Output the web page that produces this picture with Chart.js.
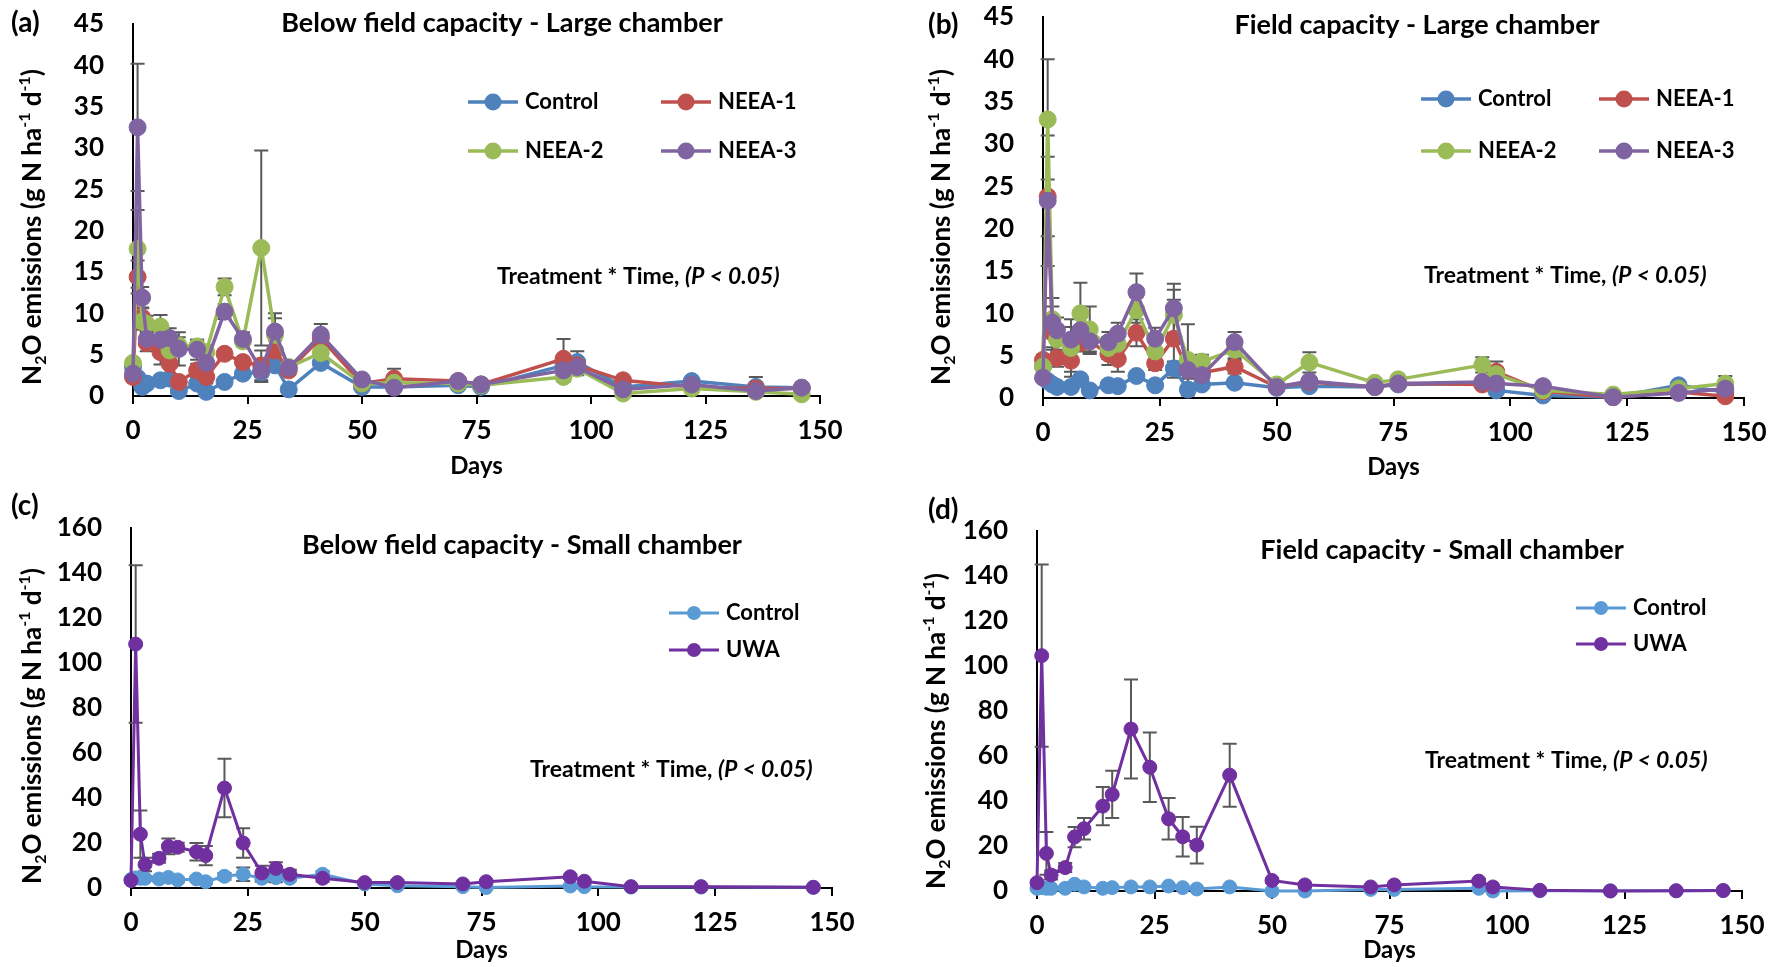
<!DOCTYPE html>
<html>
<head>
<meta charset="utf-8">
<title>N2O emissions</title>
<script src="https://cdn.jsdelivr.net/npm/chart.js@4.4.1/dist/chart.umd.min.js"></script>
<style>
  body { margin: 0; background: #fff; }
  #wrap { position: relative; width: 1778px; height: 967px; overflow: hidden; }
  canvas { position: absolute; }
</style>
</head>
<body>
<div id="wrap">
  <canvas id="chartA" width="889" height="484" style="left:0;top:0"></canvas>
  <canvas id="chartB" width="889" height="484" style="left:889px;top:0"></canvas>
  <canvas id="chartC" width="889" height="484" style="left:0;top:483px"></canvas>
  <canvas id="chartD" width="889" height="484" style="left:889px;top:483px"></canvas>
</div>
<script>
// sampling days (same for every panel)
const days = [0, 1, 2, 3, 6, 8, 10, 14, 16, 20, 24, 28, 31, 34, 41, 50, 57, 71, 76, 94, 97, 107, 122, 136, 146];

// tick labels
const dayTicks = [0, 25, 50, 75, 100, 125, 150];
const largeTicks = [0, 5, 10, 15, 20, 25, 30, 35, 40, 45];
const smallTicks = [0, 20, 40, 60, 80, 100, 120, 140, 160];

const largeSeries = ["Control", "NEEA-1", "NEEA-2", "NEEA-3"];
const smallSeries = ["Control", "UWA"];

// (a) Below field capacity - Large chamber
const ctrlA = [3.5, 2.2, 1.1, 1.5, 1.9, 2.1, 0.6, 1.5, 0.5, 1.7, 2.7, 2.9, 3.7, 0.8, 4.0, 1.1, 1.1, 1.3, 1.1, 3.7, 4.1, 1.1, 1.8, 1.1, 1.0];
const neea1A = [2.3, 14.4, 9.5, 6.4, 5.3, 3.9, 1.7, 3.1, 2.3, 5.1, 4.1, 3.7, 5.5, 3.1, 7.0, 1.5, 2.1, 1.8, 1.4, 4.5, 3.7, 1.9, 1.1, 0.9, 0.9];
const neea2A = [4.0, 17.8, 9.0, 8.7, 8.4, 5.5, 6.1, 6.0, 5.3, 13.2, 6.6, 17.9, 7.4, 3.5, 5.2, 1.5, 1.6, 1.5, 1.3, 2.3, 3.3, 0.3, 0.9, 0.5, 0.2];
const neea3A = [2.7, 32.5, 11.9, 6.9, 6.8, 7.0, 5.7, 5.6, 4.0, 10.2, 6.9, 3.1, 7.8, 3.4, 7.4, 2.0, 1.0, 1.8, 1.4, 3.1, 3.5, 0.8, 1.4, 0.6, 1.0];
const ctrlAErr = [0.5, 0.5, 0.3, 0.3, 0.3, 0.3, 0.3, 0.3, 0.3, 0.4, 0.5, 0.6, 0.6, 0.3, 0.5, 0.3, 0.3, 0.3, 0.3, 0.8, 1.3, 0.3, 0.3, 1.2, 0.3];
const neea1AErr = [0.5, 2.0, 1.2, 1.0, 1.5, 1.2, 0.5, 0.8, 0.8, 0.6, 0.5, 1.8, 1.2, 0.5, 0.8, 0.4, 1.2, 0.3, 0.3, 2.4, 0.8, 0.4, 0.3, 0.3, 0.3];
const neea2AErr = [0.5, 4.7, 1.0, 1.0, 1.4, 1.0, 1.0, 0.8, 0.8, 1.0, 0.6, 11.8, 2.0, 0.5, 0.8, 0.3, 0.5, 0.3, 0.3, 0.6, 0.8, 0.3, 0.3, 0.3, 0.3];
const neea3AErr = [0.5, 7.7, 1.3, 1.0, 1.0, 1.2, 2.0, 1.2, 1.0, 0.9, 0.8, 1.4, 2.2, 0.5, 1.3, 0.4, 0.3, 0.3, 0.3, 0.5, 0.8, 0.3, 0.3, 0.3, 0.3];

// (b) Field capacity - Large chamber
const ctrlB = [3.7, 2.0, 1.6, 1.3, 1.3, 2.2, 0.9, 1.5, 1.4, 2.6, 1.5, 3.5, 1.0, 1.6, 1.8, 1.2, 1.4, 1.3, 1.6, 1.7, 0.9, 0.3, 0.1, 1.5, 0.7];
const neea1B = [4.5, 23.8, 7.7, 4.7, 4.4, 6.5, 6.7, 5.2, 4.6, 7.7, 4.1, 7.0, 3.3, 3.0, 3.7, 1.3, 1.9, 1.3, 1.7, 1.6, 3.1, 0.8, 0.1, 0.7, 0.2];
const neea2B = [3.7, 32.9, 9.3, 6.9, 5.9, 10.0, 8.1, 5.9, 6.4, 10.4, 5.5, 9.8, 4.5, 4.3, 5.7, 1.6, 4.2, 1.8, 2.2, 3.9, 2.8, 0.9, 0.4, 1.1, 1.7];
const neea3B = [2.4, 23.3, 8.9, 8.0, 6.9, 8.0, 6.7, 6.6, 7.6, 12.5, 7.0, 10.6, 3.3, 2.7, 6.6, 1.3, 2.0, 1.3, 1.7, 1.9, 1.7, 1.4, 0.1, 0.6, 1.1];
const ctrlBErr = [0.5, 0.4, 0.3, 0.3, 0.3, 0.4, 0.3, 0.3, 0.3, 0.4, 0.3, 0.8, 0.3, 0.3, 0.3, 0.2, 0.2, 0.2, 0.2, 0.3, 0.3, 0.1, 0.1, 0.4, 0.2];
const neea1BErr = [0.6, 4.7, 2.0, 1.0, 1.3, 1.0, 1.2, 1.3, 1.5, 1.6, 0.8, 4.6, 1.0, 0.6, 0.8, 0.3, 0.4, 0.3, 0.3, 0.4, 1.2, 0.3, 0.1, 0.3, 0.2];
const neea2BErr = [0.5, 7.1, 1.5, 1.5, 3.4, 3.6, 2.7, 1.3, 1.5, 1.5, 1.0, 3.0, 4.2, 0.8, 1.0, 0.3, 1.2, 0.3, 0.3, 0.9, 0.8, 0.3, 0.2, 0.3, 0.9];
const neea3BErr = [0.5, 7.7, 2.9, 1.5, 1.5, 1.5, 1.5, 1.2, 1.3, 2.2, 1.3, 2.9, 1.0, 0.6, 1.2, 0.3, 0.3, 0.3, 0.3, 0.3, 0.3, 0.3, 0.1, 0.3, 0.3];

// (c) Below field capacity - Small chamber (no reading on day 136)
const ctrlC = [3.8, 4.5, 4.3, 4.3, 4.0, 4.7, 3.6, 4.0, 2.8, 5.2, 6.1, 4.3, 4.6, 4.3, 6.1, 1.8, 1.0, 0.6, 0.2, 0.9, 0.6, 0.4, 0.4, null, 0.3];
const uwaC = [3.3, 108.4, 23.9, 10.4, 13.2, 18.5, 18.1, 16.1, 14.4, 44.4, 20.0, 6.7, 8.7, 6.1, 4.3, 2.4, 2.4, 1.8, 2.8, 5.0, 3.0, 0.6, 0.6, null, 0.3];
const ctrlCErr = [1, 1, 1, 1, 1, 1, 1, 1, 1, 1.5, 3.0, 1.5, 2.0, 1.0, 1.5, 0.5, 0.5, 0.3, 0.3, 0.3, 0.3, 0.3, 0.3, 0, 0.3];
const uwaCErr = [1, 35, 10.5, 3, 2, 3.5, 2, 3.9, 4.3, 13, 6.6, 3.2, 2.7, 2, 1.5, 1, 1, 0.5, 0.5, 1, 0.8, 0.3, 0.3, 0, 0.3];

// (d) Field capacity - Small chamber
const ctrlD = [1.2, 1.5, 1.2, 1.2, 1.2, 3.0, 1.8, 1.2, 1.5, 1.8, 1.8, 2.2, 1.5, 0.9, 1.8, 0.0, 0.0, 0.7, 0.7, 1.2, 0.0, 0.1, 0.1, 0.1, 0.2];
const uwaD = [3.7, 104.6, 16.7, 7.1, 10.4, 24.0, 27.7, 37.7, 42.9, 72.0, 55.0, 32.1, 24.1, 20.4, 51.5, 4.7, 2.7, 1.8, 2.7, 4.4, 1.8, 0.3, 0.0, 0.1, 0.2];
const ctrlDErr = [0.5, 0.5, 0.5, 0.5, 0.5, 0.5, 0.5, 0.5, 0.5, 0.5, 0.5, 0.5, 0.5, 0.5, 0.5, 0.3, 0.3, 0.3, 0.3, 0.3, 0.3, 0.2, 0.2, 0.2, 0.2];
const uwaDErr = [1, 40.5, 9.5, 2, 2, 4.5, 4.8, 8.5, 10.5, 22, 15.4, 9.2, 8.8, 8.2, 14, 1, 1, 0.5, 0.5, 1, 0.5, 0.3, 0.2, 0.2, 0.2];

const largeColors = ["#4F81BD", "#C0504D", "#9BBB59", "#8064A2"];
const smallColors = ["#5B9BD5", "#7030A0"];

Chart.defaults.font.family = "Lato, 'Open Sans', sans-serif";
Chart.defaults.font.weight = "bold";
Chart.defaults.color = "#000";

const W = 889, H = 484;

function makeDatasets(names, colors, values, errors, radius, width) {
  return names.map((name, k) => ({
    label: name,
    data: days.map((d, i) => ({ x: d, y: values[k][i] })),
    errorBars: errors[k],
    borderColor: colors[k],
    backgroundColor: colors[k],
    pointBackgroundColor: colors[k],
    pointBorderColor: colors[k],
    pointBorderWidth: 1,
    pointRadius: radius,
    borderWidth: width,
    spanGaps: true,
    clip: false,
    order: names.length - k   // later series drawn on top, like Excel
  }));
}

// draws "N2O emissions (g N ha-1 d-1)" rotated, with sub/superscripts
function drawYTitle(ctx, cx, cy) {
  const parts = [["N", 0], ["2", 1], ["O emissions (g N ha", 0], ["-1", -1], [" d", 0], ["-1", -1], [")", 0]];
  const big = "bold 26px Lato", small = "bold 16px Lato";
  ctx.save();
  ctx.translate(cx, cy);
  ctx.rotate(-Math.PI / 2);
  let total = 0;
  parts.forEach(p => { ctx.font = p[1] ? small : big; total += ctx.measureText(p[0]).width; });
  let x = -total / 2;
  ctx.textBaseline = "middle";
  ctx.textAlign = "left";
  ctx.fillStyle = "#000";
  parts.forEach(p => {
    ctx.font = p[1] ? small : big;
    const dy = p[1] === 1 ? 8 : (p[1] === -1 ? -8 : 0);
    ctx.fillText(p[0], x, dy);
    x += ctx.measureText(p[0]).width;
  });
  ctx.restore();
}

function panelPlugin(p) {
  return {
    id: "panelText",
    beforeDatasetsDraw(chart) {
      // error bars sit under lines and markers
      const ctx = chart.ctx, xs = chart.scales.x, ys = chart.scales.y;
      ctx.save();
      ctx.strokeStyle = "#595959";
      ctx.lineWidth = 2;
      chart.data.datasets.forEach(ds => {
        ds.data.forEach((pt, i) => {
          const e = ds.errorBars[i];
          if (pt.y == null || !e) return;
          const x = xs.getPixelForValue(pt.x);
          const y1 = ys.getPixelForValue(pt.y + e);
          const y2 = ys.getPixelForValue(Math.max(pt.y - e, 0));
          ctx.beginPath();
          ctx.moveTo(x, y1); ctx.lineTo(x, y2);
          ctx.moveTo(x - 7, y1); ctx.lineTo(x + 7, y1);
          if (pt.y - e > 0) { ctx.moveTo(x - 7, y2); ctx.lineTo(x + 7, y2); }
          ctx.stroke();
        });
      });
      ctx.restore();
    },
    afterDraw(chart) {
      const ctx = chart.ctx, area = chart.chartArea;
      ctx.save();
      ctx.fillStyle = "#000";
      ctx.textBaseline = "middle";

      // panel letter
      ctx.font = "bold 28px Lato";
      ctx.textAlign = "left";
      ctx.fillText(p.letter, p.letterX, p.letterY);

      // title
      ctx.font = "bold 27px Lato";
      ctx.textAlign = "center";
      ctx.fillText(p.title, p.titleX, p.titleY);

      // x axis title
      ctx.font = "bold 24px Lato";
      ctx.fillText("Days", (area.left + area.right) / 2, p.daysY);

      // statistics note
      ctx.textAlign = "left";
      ctx.font = "bold 23px Lato";
      const s1 = "Treatment * Time, ";
      ctx.fillText(s1, p.noteX, p.noteY);
      const w1 = ctx.measureText(s1).width;
      ctx.font = "italic bold 23px Lato";
      ctx.fillText("(P < 0.05)", p.noteX + w1, p.noteY);

      drawYTitle(ctx, p.yTitleX, p.yTitleY);

      // legend, two columns for four series, one column for two
      const sets = chart.data.datasets;
      sets.forEach((ds, k) => {
        const col = sets.length > 2 ? k % 2 : 0;
        const row = sets.length > 2 ? Math.floor(k / 2) : k;
        const lx = p.legX[col], ly = p.legY[row];
        ctx.strokeStyle = ds.borderColor;
        ctx.lineWidth = ds.borderWidth;
        ctx.beginPath();
        ctx.moveTo(lx, ly); ctx.lineTo(lx + 50, ly);
        ctx.stroke();
        ctx.fillStyle = ds.borderColor;
        ctx.beginPath();
        ctx.arc(lx + 25, ly, ds.pointRadius, 0, Math.PI * 2);
        ctx.fill();
        ctx.fillStyle = "#000";
        ctx.font = "bold 22px Lato";
        ctx.textAlign = "left";
        ctx.fillText(ds.label, lx + 57, ly);
      });
      ctx.restore();
    }
  };
}

function makePanel(id, p, datasets, yTicks) {
  const area = p.area;
  return new Chart(document.getElementById(id), {
    type: "line",
    data: { datasets: datasets },
    options: {
      responsive: false,
      animation: false,
      events: [],
      layout: { padding: { left: 0, top: area.top, right: W - area.right, bottom: 0 } },
      plugins: { legend: { display: false }, tooltip: { enabled: false } },
      scales: {
        x: {
          type: "linear",
          min: dayTicks[0],
          max: dayTicks[dayTicks.length - 1],
          afterBuildTicks: s => { s.ticks = dayTicks.map(v => ({ value: v })); },
          // fixed size so the plot area lands where the original is
          afterFit: s => { s.height = H - area.bottom; s.paddingLeft = 0; s.paddingRight = 0; },
          grid: { display: true, drawOnChartArea: false, drawTicks: true, tickLength: 8, color: "#000", lineWidth: 2 },
          border: { display: true, color: "#000", width: 2 },
          ticks: { font: { size: 26, weight: "bold" }, color: "#000", padding: 11, maxRotation: 0 }
        },
        y: {
          min: yTicks[0],
          max: yTicks[yTicks.length - 1],
          afterBuildTicks: s => { s.ticks = yTicks.map(v => ({ value: v })); },
          afterFit: s => { s.width = area.left; s.paddingTop = 0; s.paddingBottom = 0; },
          grid: { display: false },
          border: { display: true, color: "#000", width: 2 },
          ticks: { font: { size: 26, weight: "bold" }, color: "#000", padding: 21 }
        }
      }
    },
    plugins: [panelPlugin(p)]
  });
}

makePanel("chartA", {
  area: { left: 133, right: 820, top: 24, bottom: 396 },
  letter: "(a)", letterX: 11, letterY: 23,
  title: "Below field capacity - Large chamber", titleX: 502, titleY: 23,
  daysY: 466, noteX: 497, noteY: 277,
  yTitleX: 33, yTitleY: 227,
  legX: [468, 661], legY: [102, 151]
}, makeDatasets(largeSeries, largeColors, [ctrlA, neea1A, neea2A, neea3A],
  [ctrlAErr, neea1AErr, neea2AErr, neea3AErr], 8.5, 3.5), largeTicks);

makePanel("chartB", {
  area: { left: 154, right: 855, top: 17, bottom: 398 },
  letter: "(b)", letterX: 39, letterY: 25,
  title: "Field capacity - Large chamber", titleX: 528, titleY: 25,
  daysY: 467, noteX: 535, noteY: 276,
  yTitleX: 53, yTitleY: 227,
  legX: [532, 710], legY: [99, 151]
}, makeDatasets(largeSeries, largeColors, [ctrlB, neea1B, neea2B, neea3B],
  [ctrlBErr, neea1BErr, neea2BErr, neea3BErr], 8.5, 3.5), largeTicks);

makePanel("chartC", {
  area: { left: 131, right: 832, top: 45, bottom: 405 },
  letter: "(c)", letterX: 11, letterY: 23,
  title: "Below field capacity - Small chamber", titleX: 522, titleY: 62,
  daysY: 467, noteX: 530, noteY: 287,
  yTitleX: 33, yTitleY: 243,
  legX: [669], legY: [130, 167]
}, makeDatasets(smallSeries, smallColors, [ctrlC, uwaC], [ctrlCErr, uwaCErr], 7, 3), smallTicks);

makePanel("chartD", {
  area: { left: 148, right: 853, top: 48, bottom: 408 },
  letter: "(d)", letterX: 39, letterY: 27,
  title: "Field capacity - Small chamber", titleX: 553, titleY: 67,
  daysY: 467, noteX: 536, noteY: 278,
  yTitleX: 48, yTitleY: 248,
  legX: [687], legY: [125, 161]
}, makeDatasets(smallSeries, smallColors, [ctrlD, uwaD], [ctrlDErr, uwaDErr], 7, 3), smallTicks);
</script>
</body>
</html>
